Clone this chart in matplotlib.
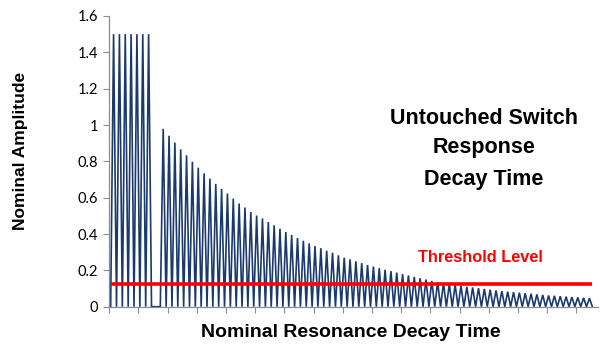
import matplotlib
matplotlib.use("Agg")
import matplotlib.pyplot as plt

# ---- data ----
full_peaks = [1.5, 1.5, 1.5, 1.5, 1.5, 1.5, 1.5]          # saturated peaks
gap_zeros = [0, 0, 0, 0]                                   # flat gap after saturation
decay_peaks = [0.979, 0.941, 0.903, 0.866, 0.833, 0.798, 0.765, 0.734, 0.705, 0.676,
               0.648, 0.623, 0.595, 0.568, 0.546, 0.521, 0.502, 0.486, 0.466, 0.448,
               0.429, 0.411, 0.395, 0.378, 0.363, 0.349, 0.334, 0.322, 0.308, 0.297,
               0.283, 0.270, 0.261, 0.250, 0.240, 0.230, 0.221, 0.212, 0.203, 0.196,
               0.188, 0.179, 0.172, 0.164, 0.157, 0.150, 0.142, 0.135, 0.130, 0.125,
               0.120, 0.115, 0.110, 0.106, 0.102, 0.098, 0.094, 0.090, 0.086, 0.083,
               0.080, 0.077, 0.074, 0.071, 0.068, 0.065, 0.062, 0.060, 0.058, 0.055,
               0.053, 0.051, 0.049, 0.047]
trough = 0
threshold = 0.125
y_ticks = [0, 0.2, 0.4, 0.6, 0.8, 1.0, 1.2, 1.4, 1.6]
y_tick_labels = ["0", "0.2", "0.4", "0.6", "0.8", "1", "1.2", "1.4", "1.6"]
x_label = "Nominal Resonance Decay Time"
y_label = "Nominal Amplitude"
note_lines = ["Untouched Switch", "Response", "Decay Time"]
threshold_label = "Threshold Level"

# build the oscillating series
signal = []
for p in full_peaks:
    signal += [trough, p]
signal += gap_zeros
for p in decay_peaks:
    signal += [p, trough]
x = list(range(len(signal)))
thresh_series = [threshold] * len(signal)

# ---- figure ----
fig = plt.figure(figsize=(6.0, 3.55), dpi=100)
ax = fig.add_axes([0.182, 0.136, 0.815, 0.819])

ax.plot(x, signal, color="#1a3a6e", lw=1.2, solid_joinstyle="miter")
ax.plot(x, thresh_series, color="#ff0000", lw=2.6, solid_capstyle="butt")

ax.set_ylim(0, 1.6)
ax.set_xlim(-0.5, 167)
ax.set_yticks(y_ticks)
ax.set_yticklabels(y_tick_labels, fontfamily="Lato", fontsize=10.5)
ax.set_xticks([-0.5 + 10 * k for k in range(17)])
ax.set_xticklabels([])

for s in ["top", "right"]:
    ax.spines[s].set_visible(False)
for s in ["left", "bottom"]:
    ax.spines[s].set_color("#8c8c8c")
    ax.spines[s].set_linewidth(0.9)
ax.tick_params(axis="y", direction="out", length=4, width=0.8, color="#8c8c8c", pad=4)
ax.tick_params(axis="x", direction="out", length=4, width=0.8, color="#8c8c8c")

fig.text(0.585, 0.062, x_label, ha="center", va="center", fontsize=14,
         fontweight="bold", fontfamily="Liberation Sans")
fig.text(0.035, 0.575, y_label, ha="center", va="center", rotation=90, fontsize=12.5,
         fontweight="bold", fontfamily="Liberation Sans")

note_y = [118, 147, 180]
for txt, yy in zip(note_lines, note_y):
    fig.text(484 / 600, 1 - yy / 355, txt, ha="center", va="center", fontsize=15.5,
             fontweight="bold", fontfamily="Liberation Sans", color="black")

fig.text(480 / 600, 1 - 258 / 355, threshold_label, ha="center", va="center",
         fontsize=11.8, fontweight="bold", fontfamily="Liberation Sans", color="#ff0000")

fig.savefig("out.png", dpi=100)
